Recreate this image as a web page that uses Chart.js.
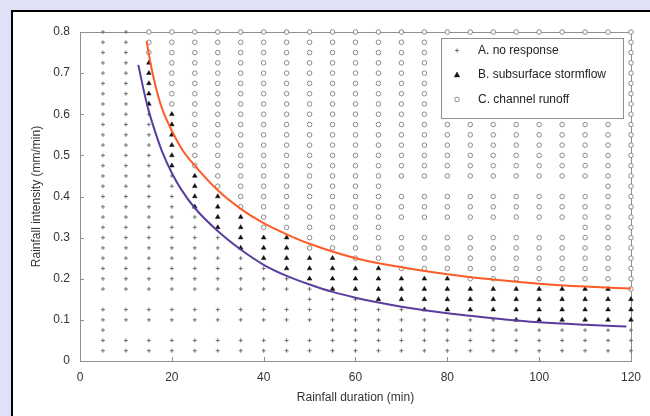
<!DOCTYPE html>
<html>
<head>
<meta charset="utf-8">
<script src="https://cdn.jsdelivr.net/npm/chart.js@4.4.1/dist/chart.umd.min.js"></script>
<style>
  html, body { margin: 0; padding: 0; }
  body { width: 650px; height: 416px; background: #e0e0f6; position: relative; overflow: hidden; }
  #panel { position: absolute; left: 11px; top: 10px; width: 700px; height: 500px; background: #fff; border: 2px solid #000; }
  #chart { position: absolute; left: 0; top: 0; }
</style>
</head>
<body>
<div id="panel"></div>
<canvas id="chart" width="650" height="416"></canvas>
<script>
// grid of simulated storms: duration (min) x intensity (mm/min)
const durations = [5, 10, 15, 20, 25, 30, 35, 40, 45, 50, 55, 60, 65, 70, 75, 80, 85, 90, 95, 100, 105, 110, 115, 120];
const intensities = [0.8, 0.775, 0.75, 0.725, 0.7, 0.675, 0.65, 0.625, 0.6, 0.575, 0.55, 0.525, 0.5, 0.475, 0.45, 0.425,
                     0.4, 0.375, 0.35, 0.325, 0.3, 0.275, 0.25, 0.225, 0.2, 0.175, 0.15, 0.125, 0.1, 0.075, 0.05, 0.025];
// response class per row (top to bottom), run-length: a = no response, b = subsurface stormflow, c = channel runoff, . = none/hidden
const responseRows = [
  'a2 c22',
  'a2 c13 .8 c1',
  'a2 c13 .8 c1',
  'a2 b1 c12 .8 c1',
  'a2 b1 c12 .8 c1',
  'a2 b1 c12 .8 c1',
  'a2 b1 c12 .8 c1',
  'a2 b1 c12 .8 c1',
  'a3 b1 c11 .8 c1',
  'a3 b1 c20',
  'a3 b1 c20',
  'a3 b1 c20',
  'a3 b1 c20',
  'a3 b1 c20',
  'a4 b1 c19',
  'a4 b1 c8 .9 c2',
  'a4 b2 c18',
  'a4 b2 c18',
  'a5 b2 c17',
  'a5 b2 c6 .8 c3',
  'a6 b3 c15',
  'a6 b3 c15',
  'a7 b4 c13',
  'a8 b5 c11',
  'a9 b7 c8',
  'a10 b13 c1',
  '.9 a3 b12',
  'a14 b10',
  'a18 b6',
  'a1 .9 a14',
  'a24',
  'a24'
];
const classLabels = { a: 'A. no response', b: 'B. subsurface stormflow', c: 'C. channel runoff' };

// threshold curves
const upperX = [14.5, 15, 16, 17, 18, 20, 22.5, 25, 30, 35, 40, 45, 50, 60, 70, 80, 90, 100, 110, 120];
const upperY = [0.778, 0.745, 0.69, 0.645, 0.61, 0.56, 0.51, 0.475, 0.415, 0.37, 0.335, 0.308, 0.285, 0.25, 0.228, 0.211, 0.198, 0.188, 0.181, 0.176];
const lowerX = [12.7, 14, 15, 16.5, 18, 20, 22, 25, 30, 35, 40, 45, 50, 55, 60, 65, 70, 80, 90, 100, 110, 119];
const lowerY = [0.72, 0.652, 0.607, 0.553, 0.506, 0.457, 0.418, 0.372, 0.316, 0.271, 0.234, 0.207, 0.186, 0.168, 0.154, 0.142, 0.132, 0.116, 0.104, 0.094, 0.088, 0.084];

function pointsOf(cls) {
  const pts = [];
  responseRows.forEach((row, r) => {
    let col = 0;
    row.split(' ').forEach(run => {
      const k = run[0], n = parseInt(run.slice(1), 10);
      for (let i = 0; i < n; i++, col++) {
        if (k === cls) pts.push({ x: durations[col], y: intensities[r] });
      }
    });
  });
  return pts;
}
const zip = (xs, ys) => xs.map((x, i) => ({ x: x, y: ys[i] }));

const GRAY = '#8f8f8f';

const framePlugin = {
  id: 'frame',
  beforeDatasetsDraw(chart) {
    const { ctx, chartArea: a, scales: { x, y } } = chart;
    ctx.save();
    ctx.strokeStyle = GRAY;
    ctx.lineWidth = 1;
    ctx.strokeRect(a.left + 0.5, a.top + 0.5, a.right - a.left, a.bottom - a.top);
    ctx.beginPath();
    x.ticks.forEach(t => {
      const px = Math.round(x.getPixelForValue(t.value)) + 0.5;
      ctx.moveTo(px, a.bottom); ctx.lineTo(px, a.bottom - 4);
    });
    y.ticks.forEach(t => {
      const py = Math.round(y.getPixelForValue(t.value)) + 0.5;
      ctx.moveTo(a.left, py); ctx.lineTo(a.left + 4, py);
    });
    ctx.stroke();
    ctx.restore();
  }
};

function drawMarker(ctx, ds, cx, cy) {
  const r = ds.pointRadius;
  ctx.save();
  ctx.lineWidth = ds.borderWidth;
  ctx.strokeStyle = ds.borderColor;
  ctx.fillStyle = ds.backgroundColor;
  ctx.beginPath();
  if (ds.pointStyle === 'cross') {
    ctx.moveTo(cx - r, cy); ctx.lineTo(cx + r, cy);
    ctx.moveTo(cx, cy - r); ctx.lineTo(cx, cy + r);
    ctx.stroke();
  } else if (ds.pointStyle === 'triangle') {
    ctx.moveTo(cx, cy - r * 1.1);
    ctx.lineTo(cx + r, cy + r * 0.7);
    ctx.lineTo(cx - r, cy + r * 0.7);
    ctx.closePath(); ctx.fill(); ctx.stroke();
  } else {
    ctx.arc(cx, cy, r, 0, Math.PI * 2);
    ctx.fill(); ctx.stroke();
  }
  ctx.restore();
}

const boxLegend = {
  id: 'boxLegend',
  afterDatasetsDraw(chart) {
    const { ctx, chartArea: a } = chart;
    const left = a.right - 190, top = a.top + 6, w = 182, h = 80;
    ctx.save();
    ctx.fillStyle = '#fff';
    ctx.fillRect(left, top, w, h);
    ctx.strokeStyle = GRAY;
    ctx.lineWidth = 1;
    ctx.strokeRect(left + 0.5, top + 0.5, w, h);
    ctx.font = '12px "Liberation Sans", Arial, sans-serif';
    ctx.fillStyle = '#222';
    ctx.textBaseline = 'middle';
    const items = chart.data.datasets.filter(d => d.inLegend);
    items.forEach((ds, i) => {
      const cy = top + 12.5 + i * 24.5;
      drawMarker(ctx, ds, left + 16, cy);
      ctx.fillStyle = '#222';
      ctx.fillText(ds.label, left + 37, cy);
    });
    ctx.restore();
  }
};

Chart.defaults.font.family = '"Liberation Sans", Arial, sans-serif';
Chart.defaults.font.size = 12;
Chart.defaults.color = '#333';

new Chart(document.getElementById('chart'), {
  type: 'scatter',
  data: {
    datasets: [
      { label: 'upper threshold', data: zip(upperX, upperY), showLine: true, borderColor: '#ff5b26', borderWidth: 2,
        pointRadius: 0, cubicInterpolationMode: 'monotone' },
      { label: 'lower threshold', data: zip(lowerX, lowerY), showLine: true, borderColor: '#5b3c9f', borderWidth: 2,
        pointRadius: 0, cubicInterpolationMode: 'monotone' },
      { label: classLabels.a, data: pointsOf('a'), inLegend: true, pointStyle: 'cross', pointRadius: 2,
        borderColor: '#707070', backgroundColor: '#707070', borderWidth: 1, clip: false },
      { label: classLabels.b, data: pointsOf('b'), inLegend: true, pointStyle: 'triangle', pointRadius: 2.7,
        borderColor: '#111', backgroundColor: '#111', borderWidth: 0.5, clip: false },
      { label: classLabels.c, data: pointsOf('c'), inLegend: true, pointStyle: 'circle', pointRadius: 2.3,
        borderColor: '#8a8a8a', backgroundColor: '#fff', borderWidth: 1, clip: false }
    ]
  },
  options: {
    responsive: false,
    animation: false,
    events: [],
    layout: { padding: { top: 32, right: 17, left: 0, bottom: 0 } },
    plugins: { legend: { display: false }, tooltip: { enabled: false } },
    scales: {
      x: {
        type: 'linear', min: 0, max: 120,
        ticks: { stepSize: 20, padding: 9, maxRotation: 0 },
        grid: { display: false, drawTicks: false },
        border: { display: false },
        title: { display: true, text: 'Rainfall duration (min)', padding: { top: 0, bottom: 11 } },
        afterFit: s => { s.height = 55; }
      },
      y: {
        type: 'linear', min: 0, max: 0.8,
        ticks: { stepSize: 0.1, padding: 10 },
        grid: { display: false, drawTicks: false },
        border: { display: false },
        title: { display: true, text: 'Rainfall intensity (mm/min)', padding: { top: 29, bottom: 0 } },
        afterFit: s => { s.width = 80; }
      }
    }
  },
  plugins: [framePlugin, boxLegend]
});
</script>
</body>
</html>
